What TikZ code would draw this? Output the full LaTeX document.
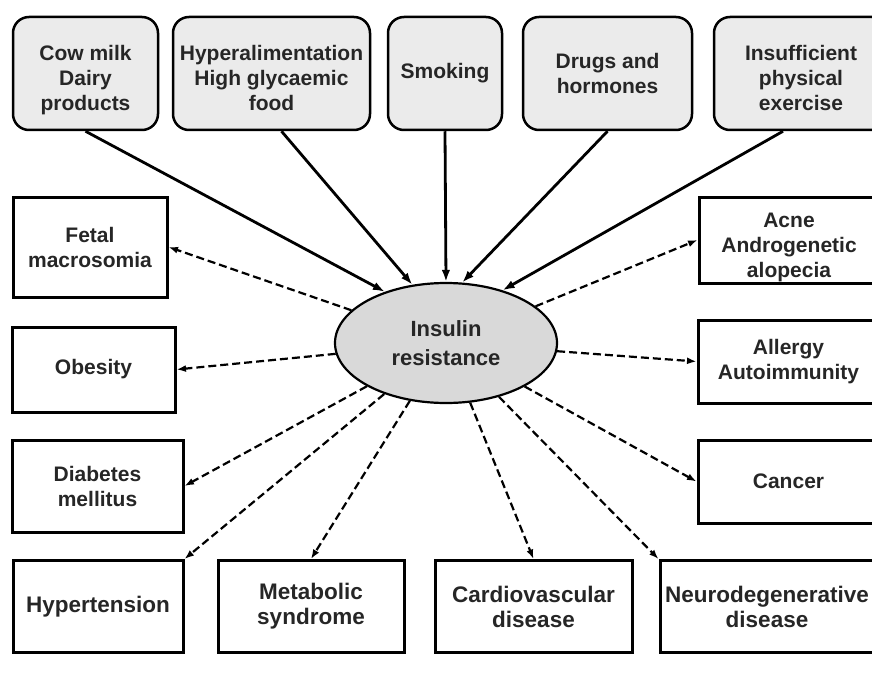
\documentclass[tikz,border=0pt]{standalone}
\usepackage{fontspec}
\setmainfont{Liberation Sans}
\usetikzlibrary{arrows.meta,shapes.geometric}
\definecolor{causefill}{HTML}{EBEBEB}
\definecolor{ellfill}{HTML}{D9D9D9}
\definecolor{txtcol}{HTML}{262626}
\begin{document}
\begin{tikzpicture}[x=1pt,y=-1pt,
 txt/.style={font=\fontsize{21}{25}\selectfont\bfseries, align=center, text=txtcol},
 cause/.style={txt, draw, line width=2.5pt, rounded corners=16pt, fill=causefill, inner sep=0pt},
 effect/.style={txt, draw, line width=3pt, inner sep=0pt},
 threeline/.style={text height=75pt, text depth=0pt},
 solidarrow/.style={line width=2.8pt, -{Latex[length=12pt,width=8.5pt]}},
 dasharrow/.style={line width=2.2pt, dash pattern=on 8pt off 4pt, -{Latex[length=9.5pt,width=7pt]}},
]
\useasboundingbox (0,0) rectangle (872,679);
\fill[white] (0,0) rectangle (872,679);

% causes (top row)
\node[cause, threeline, minimum width=145, minimum height=113] (cow) at (85.5,73.5) {Cow milk\\Dairy\\products};
\node[cause, threeline, minimum width=197, minimum height=113] (hyper) at (271.5,73.5) {Hyperalimentation\\High glycaemic\\food};
\node[cause, minimum width=114, minimum height=113] (smoke) at (445,73.5) {Smoking};
\node[cause, minimum width=169, minimum height=113] (drugs) at (607.5,73.5) {Drugs and\\hormones};
\node[cause, threeline, minimum width=174, minimum height=113] (insuf) at (801,73.5) {Insufficient\\physical\\exercise};

% central ellipse
\node[ellipse, draw, line width=2.2pt, fill=ellfill, minimum width=222, minimum height=120, inner sep=0pt,
      font=\fontsize{22}{29}\selectfont\bfseries, align=center, text=txtcol] (ir) at (446,343) {Insulin\\resistance};

% effects left
\node[effect, minimum width=154, minimum height=100] (fetal) at (90,247) {Fetal\\macrosomia};
\node[effect, minimum width=163, minimum height=85] (obes) at (93.5,369.5) {Obesity};
\node[effect, minimum width=171, minimum height=92] (diab) at (97.5,486) {Diabetes\\mellitus};

% effects right
\node[effect, threeline, minimum width=180, minimum height=86] (acne) at (789,240) {Acne\\Androgenetic\\alopecia};
\node[effect, minimum width=181, minimum height=83] (allergy) at (788.5,361.5) {Allergy\\Autoimmunity};
\node[effect, minimum width=181, minimum height=83] (cancer) at (788.5,481.5) {Cancer};

% effects bottom
\node[effect, font=\fontsize{22.5}{25}\selectfont\bfseries, minimum width=170, minimum height=92] (hyp) at (98,606.5) {Hypertension};
\node[effect, font=\fontsize{22.5}{25}\selectfont\bfseries, minimum width=186, minimum height=92] (meta) at (311,606.5) {Metabolic\\syndrome};
\node[effect, font=\fontsize{22.5}{25}\selectfont\bfseries, minimum width=197, minimum height=92] (cardio) at (533.5,606.5) {Cardiovascular\\disease};
\node[effect, font=\fontsize{22.5}{25}\selectfont\bfseries, minimum width=214, minimum height=92] (neuro) at (767,606.5) {Neurodegenerative\\disease};

% solid arrows
\draw[solidarrow] (cow.south) -- (ir.140);
\draw[solidarrow] ([xshift=10pt]hyper.south) -- (ir.120);
\draw[solidarrow] (smoke.south) -- (ir.90);
\draw[solidarrow] (drugs.south) -- (ir.75);
\draw[solidarrow] ([xshift=-18pt]insuf.south) -- (ir.43);

% dashed arrows
\draw[dasharrow] (ir) -- (fetal.east);
\draw[dasharrow] (ir) -- (obes.east);
\draw[dasharrow] (ir) -- (diab.east);
\draw[dasharrow] (ir) -- (hyp.north east);
\draw[dasharrow] (ir) -- (meta.north);
\draw[dasharrow] (ir) -- (cardio.north);
\draw[dasharrow] (ir) -- (neuro.north west);
\draw[dasharrow] (ir) -- (acne.west);
\draw[dasharrow] (ir) -- (allergy.west);
\draw[dasharrow] (ir) -- (cancer.west);
\end{tikzpicture}
\end{document}
